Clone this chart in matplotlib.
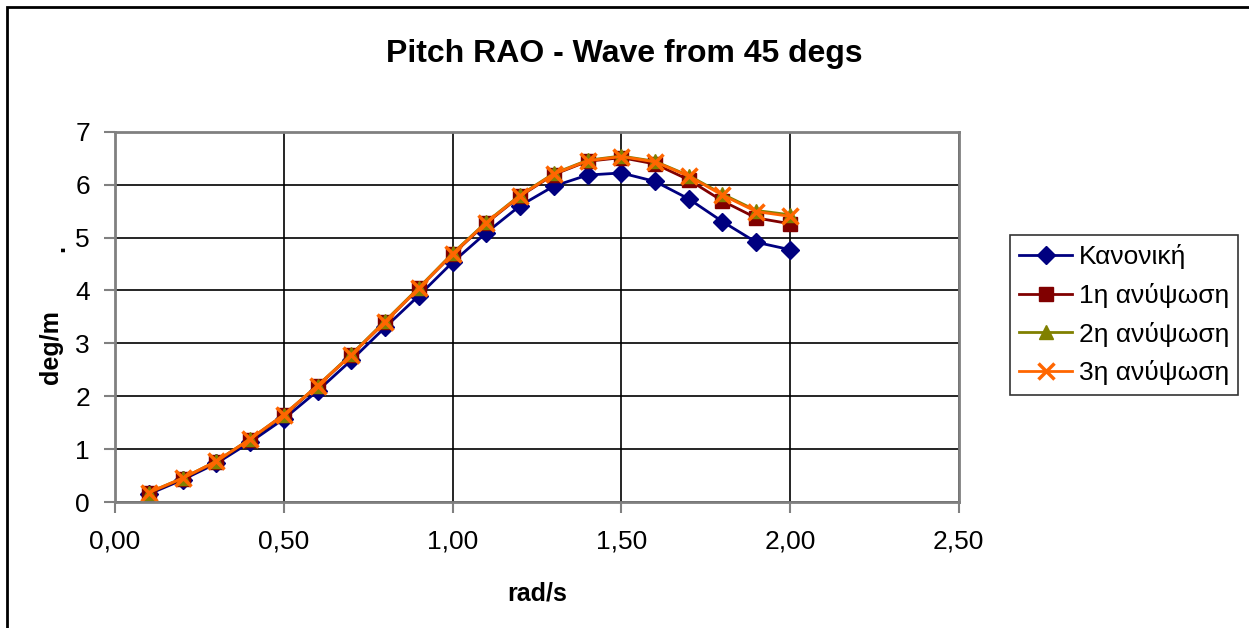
import numpy as np
import matplotlib
matplotlib.use('Agg')
import matplotlib.pyplot as plt
from matplotlib.ticker import FuncFormatter, MultipleLocator
from matplotlib.patches import Rectangle

plt.rcParams['font.family'] = ['Liberation Sans', 'DejaVu Sans']

# Συχνότητες (rad/s)
freq = [0.1, 0.2, 0.3, 0.4, 0.5, 0.6, 0.7, 0.8, 0.9, 1.0,
        1.1, 1.2, 1.3, 1.4, 1.5, 1.6, 1.7, 1.8, 1.9, 2.0]

# Pitch RAO (deg/m)
kanoniki = [0.15, 0.42, 0.73, 1.13, 1.57, 2.10, 2.68, 3.30, 3.90, 4.53,
            5.09, 5.60, 5.97, 6.18, 6.22, 6.06, 5.73, 5.30, 4.91, 4.77]
anypsosi1 = [0.17, 0.44, 0.76, 1.18, 1.64, 2.19, 2.78, 3.40, 4.04, 4.68,
             5.27, 5.78, 6.19, 6.44, 6.51, 6.39, 6.09, 5.69, 5.37, 5.26]
anypsosi2 = [0.18, 0.45, 0.77, 1.19, 1.65, 2.20, 2.79, 3.42, 4.05, 4.70,
             5.29, 5.80, 6.21, 6.46, 6.54, 6.44, 6.17, 5.82, 5.51, 5.43]
anypsosi3 = [0.18, 0.45, 0.77, 1.19, 1.65, 2.20, 2.78, 3.41, 4.04, 4.69,
             5.28, 5.79, 6.20, 6.45, 6.53, 6.43, 6.16, 5.80, 5.49, 5.40]

labels = ['Κανονική', '1η ανύψωση', '2η ανύψωση', '3η ανύψωση']

fig = plt.figure(figsize=(12.49, 6.28), dpi=100)
ax = fig.add_axes([0.0921, 0.2006, 0.6755, 0.5897])

ax.plot(freq, kanoniki, color='#000080', lw=2, marker='D', ms=9, label=labels[0])
ax.plot(freq, anypsosi1, color='#800000', lw=2, marker='s', ms=10, label=labels[1])
ax.plot(freq, anypsosi2, color='#808000', lw=2, marker='^', ms=10, label=labels[2])
ax.plot(freq, anypsosi3, color='#FF6600', lw=2, marker='x', ms=11, mew=2.5, label=labels[3])

ax.set_xlim(0, 2.5)
ax.set_ylim(0, 7)
ax.xaxis.set_major_locator(MultipleLocator(0.5))
ax.yaxis.set_major_locator(MultipleLocator(1))
ax.xaxis.set_major_formatter(FuncFormatter(lambda v, p: f'{v:.2f}'.replace('.', ',')))
ax.grid(True, color='black', lw=1.2)
ax.set_axisbelow(True)
for s in ax.spines.values():
    s.set_color('#808080')
    s.set_linewidth(2)
ax.tick_params(direction='out', length=8, width=1.5, color='#808080',
               labelsize=19)
ax.tick_params(axis='x', pad=12)
ax.tick_params(axis='y', pad=10)

ax.set_xlabel('rad/s', fontsize=18, fontweight='bold', labelpad=20)
# ετικέτα άξονα y και η τελεία πάνω της
fig.text(51 / 1249, 1 - 347 / 628, 'deg/m', fontsize=18, fontweight='bold',
         rotation=90, ha='center', va='center')
fig.text(57 / 1249, 1 - 248 / 628, '.', fontsize=18, fontweight='bold',
         rotation=90, ha='center', va='center')

fig.suptitle('Pitch RAO - Wave from 45 degs', fontsize=23, fontweight='bold',
             x=0.5, y=0.938)

leg = ax.legend(loc='upper left', bbox_to_anchor=(1.061, 0.721), fontsize=19,
                frameon=True, fancybox=False, edgecolor='black',
                handlelength=2.0, handletextpad=0.25, borderpad=0.35,
                labelspacing=0.52, borderaxespad=0)
leg.get_frame().set_linewidth(1.2)

fig.patches.append(Rectangle((7 / 1249, -0.1), 1.2, 1 - 7 / 628 + 0.1,
                             transform=fig.transFigure, fill=False,
                             edgecolor='black', lw=2))

plt.savefig('out.png', dpi=100)
